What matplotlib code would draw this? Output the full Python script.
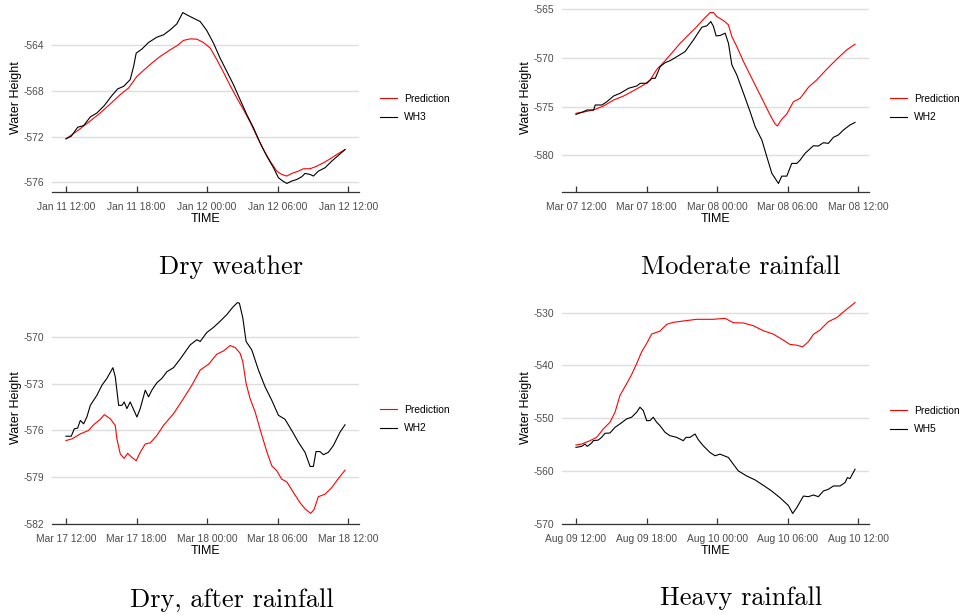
import numpy as np
import pandas as pd
import matplotlib
matplotlib.use("Agg")
import matplotlib.pyplot as plt
import matplotlib.dates as mdates

plt.rcParams['font.family'] = ['Liberation Sans', 'DejaVu Sans']
plt.rcParams['axes.unicode_minus'] = False

# hours after 12:00 on the start day, water heights
dry_start = "2020-01-11 12:00"
dry_obs_h = [0, 0.45, 1.0, 1.5, 2.07, 2.63, 3.26, 3.85, 4.39, 4.9, 5.46, 5.75, 5.97, 6.45,
             7.02, 7.73, 8.29, 8.86, 9.43, 9.93, 10.27, 10.84, 11.41, 11.97, 12.54, 13.1,
             13.67, 14.24, 14.8, 15.37, 15.94, 16.5, 17.07, 17.64, 18.06, 18.43, 18.77,
             19.19, 19.62, 20.04, 20.32, 20.75, 21.03, 21.45, 22.02, 22.59, 23.15, 23.72]
dry_obs = [-572.2, -571.97, -571.18, -571.04, -570.28, -569.93, -569.28, -568.47, -567.82,
           -567.59, -567.0, -565.84, -564.67, -564.32, -563.74, -563.27, -563.07, -562.63,
           -562.1, -561.11, -561.31, -561.61, -561.9, -562.69, -563.8, -565.11, -566.28,
           -567.45, -568.76, -570.07, -571.24, -572.55, -573.72, -574.74, -575.62, -575.91,
           -576.12, -575.91, -575.77, -575.53, -575.24, -575.33, -575.47, -575.04, -574.74,
           -574.16, -573.66, -573.14]
dry_pred_h = [0, 0.93, 1.78, 2.92, 3.76, 4.61, 5.32, 6.03, 6.6, 7.3, 8.01, 8.86, 9.43, 9.99,
              10.56, 11.13, 11.69, 12.26, 12.83, 13.39, 13.96, 14.52, 15.09, 15.66, 16.22,
              16.78, 17.35, 17.92, 18.34, 18.77, 19.19, 19.76, 20.18, 20.75, 21.32, 21.88,
              22.45, 23.01, 23.72]
dry_pred = [-572.2, -571.53, -570.86, -569.93, -569.14, -568.32, -567.74, -566.72, -566.19,
            -565.55, -564.96, -564.38, -564.03, -563.56, -563.42, -563.45, -563.74, -564.23,
            -565.26, -566.36, -567.53, -568.61, -569.64, -570.74, -571.97, -573.14, -574.16,
            -575.04, -575.33, -575.47, -575.24, -575.04, -574.83, -574.83, -574.6, -574.31,
            -573.96, -573.58, -573.14]
dry_ticks = [-576, -572, -568, -564]

mod_start = "2020-03-07 12:00"
mod_obs_h = [0, 0.65, 0.93, 1.5, 1.64, 2.21, 2.63, 3.2, 3.76, 4.47, 5.18, 5.46, 6.03, 6.45,
             6.74, 7.16, 7.59, 8.01, 8.58, 9.28, 9.99, 10.7, 11.12, 11.46, 11.69, 11.91,
             12.25, 12.68, 12.96, 13.25, 13.67, 14.24, 14.8, 15.23, 15.8, 16.22, 16.65,
             17.21, 17.49, 17.92, 18.34, 18.77, 19.05, 19.47, 20.18, 20.6, 21.03, 21.45,
             21.88, 22.3, 22.73, 23.29, 23.72]
mod_obs = [-575.8, -575.52, -575.35, -575.35, -574.84, -574.84, -574.5, -573.92, -573.64,
           -573.13, -572.89, -572.62, -572.62, -572.11, -572.11, -570.91, -570.5, -570.3,
           -569.89, -569.37, -568.18, -566.88, -566.74, -566.3, -566.81, -567.77, -567.73,
           -567.49, -568.52, -570.74, -571.76, -573.64, -575.52, -577.06, -578.43, -580.13,
           -581.84, -582.87, -582.12, -582.12, -580.82, -580.82, -580.48, -579.79, -579.01,
           -579.04, -578.7, -578.77, -578.15, -577.91, -577.4, -576.89, -576.62]
mod_pred_h = [0, 0.65, 1.5, 2.35, 3.2, 4.05, 4.9, 5.75, 6.31, 6.88, 7.44, 8.01, 8.86, 9.57,
              10.28, 10.84, 11.41, 11.69, 11.97, 12.54, 12.96, 13.25, 13.67, 14.24, 14.8,
              15.37, 15.94, 16.5, 16.93, 17.12, 17.49, 17.92, 18.48, 19.05, 19.76, 20.46,
              21.31, 22.16, 23.01, 23.72]
mod_pred = [-575.69, -575.56, -575.35, -574.94, -574.33, -573.92, -573.37, -572.79, -572.28,
            -571.18, -570.5, -569.71, -568.52, -567.66, -566.81, -566.06, -565.38, -565.38,
            -565.79, -566.2, -566.64, -567.84, -568.86, -570.4, -571.76, -573.13, -574.5,
            -575.86, -576.79, -576.99, -576.31, -575.76, -574.5, -574.16, -573.03, -572.28,
            -571.18, -570.16, -569.2, -568.62]
mod_ticks = [-580, -575, -570, -565]

after_start = "2020-03-17 12:00"
after_obs_h = [0, 0.45, 0.71, 0.99, 1.22, 1.5, 1.78, 2.07, 2.63, 3.06, 3.48, 3.99, 4.19, 4.48,
               4.76, 4.95, 5.18, 5.46, 6.03, 6.31, 6.74, 7.02, 7.3, 7.73, 8.15, 8.58, 9.14,
               9.71, 10.56, 11.12, 11.41, 11.97, 12.54, 13.1, 13.67, 14.18, 14.58, 14.74,
               15.03, 15.31, 15.79, 16.36, 16.92, 17.49, 18.06, 18.62, 19.19, 19.76, 20.32,
               20.75, 21.03, 21.25, 21.59, 21.88, 22.3, 22.73, 23.29, 23.72]
after_obs = [-576.37, -576.37, -575.89, -575.85, -575.35, -575.57, -575.13, -574.38, -573.73,
             -573.08, -572.64, -571.95, -572.53, -574.38, -574.38, -574.16, -574.59, -574.16,
             -575.13, -574.59, -573.4, -573.83, -573.4, -572.92, -572.64, -572.21, -571.95,
             -571.39, -570.48, -570.15, -570.26, -569.68, -569.35, -568.96, -568.53, -568.05,
             -567.75, -567.79, -568.74, -570.26, -570.8, -572.1, -573.18, -574.05, -575.02,
             -575.28, -576.0, -576.76, -577.41, -578.32, -578.32, -577.36, -577.36, -577.56,
             -577.41, -576.97, -576.11, -575.63]
after_pred_h = [0, 0.51, 1.22, 1.92, 2.35, 2.92, 3.26, 3.76, 4.19, 4.33, 4.62, 4.95, 5.24, 5.6,
                5.97, 6.31, 6.74, 7.16, 7.73, 8.29, 9.14, 9.99, 10.7, 11.41, 12.12, 12.82,
                13.39, 13.96, 14.38, 14.8, 15.03, 15.31, 15.65, 16.08, 16.65, 17.07, 17.49,
                17.92, 18.34, 18.77, 19.34, 19.9, 20.32, 20.8, 21.09, 21.45, 22.02, 22.59,
                23.15, 23.72]
after_pred = [-576.65, -576.54, -576.22, -576.0, -575.63, -575.28, -574.98, -575.24, -575.67,
              -576.54, -577.52, -577.8, -577.47, -577.73, -577.95, -577.41, -576.87, -576.8,
              -576.32, -575.67, -574.92, -573.94, -573.08, -572.1, -571.73, -571.08, -570.87,
              -570.52, -570.65, -571.02, -571.56, -572.97, -573.94, -574.81, -576.32, -577.36,
              -578.27, -578.6, -579.14, -579.31, -580.01, -580.66, -581.05, -581.35, -581.09,
              -580.27, -580.11, -579.68, -579.1, -578.56]
after_ticks = [-582, -579, -576, -573, -570]

heavy_start = "2020-08-09 12:00"
heavy_obs_h = [0, 0.48, 0.77, 0.96, 1.33, 1.47, 1.9, 2.18, 2.47, 2.89, 3.32, 3.74, 4.31, 4.73,
               5.16, 5.44, 5.72, 6.01, 6.29, 6.57, 6.86, 7.14, 7.57, 7.99, 8.56, 9.12, 9.35,
               9.69, 10.12, 10.4, 10.82, 11.39, 11.82, 12.24, 12.95, 13.37, 13.8, 14.51,
               15.22, 15.93, 16.63, 17.34, 18.05, 18.42, 18.76, 19.33, 19.75, 20.18, 20.6,
               21.03, 21.45, 21.88, 22.44, 22.87, 23.07, 23.29, 23.72]
heavy_obs = [-555.56, -555.37, -554.93, -555.37, -554.74, -554.29, -554.17, -553.66, -552.89,
             -552.83, -551.75, -551.11, -550.16, -549.84, -548.89, -547.94, -548.57, -550.48,
             -550.48, -549.84, -550.8, -551.43, -552.7, -553.34, -553.66, -554.29, -553.66,
             -553.66, -553.02, -554.1, -555.25, -556.52, -557.15, -556.84, -557.47, -558.74,
             -560.02, -560.98, -561.73, -562.76, -563.83, -565.1, -566.57, -568.09, -567.01,
             -564.79, -564.91, -564.59, -564.91, -563.83, -563.51, -562.88, -562.88, -562.24,
             -561.29, -561.48, -559.7]
heavy_pred_h = [0, 0.48, 1.19, 1.76, 2.32, 2.89, 3.32, 3.74, 4.31, 4.73, 5.16, 5.58, 6.01,
                6.43, 7.14, 7.71, 8.27, 9.12, 10.26, 11.67, 12.67, 13.37, 14.22, 15.07, 15.92,
                16.77, 17.48, 18.19, 18.76, 19.27, 19.75, 20.18, 20.74, 21.45, 22.16, 23.01,
                23.72]
heavy_pred = [-555.12, -554.93, -554.29, -553.66, -552.07, -550.8, -548.89, -545.71, -543.48,
              -541.76, -539.67, -537.44, -535.85, -534.07, -533.5, -532.23, -531.84, -531.59,
              -531.27, -531.27, -531.08, -531.91, -531.97, -532.48, -533.43, -534.07, -535.02,
              -536.04, -536.17, -536.49, -535.53, -534.13, -533.31, -531.72, -530.95, -529.36,
              -528.09]
heavy_ticks = [-570, -560, -550, -540, -530]

panels = [
    (dry_start, dry_obs_h, dry_obs, dry_pred_h, dry_pred, dry_ticks, "WH3", "Dry weather"),
    (mod_start, mod_obs_h, mod_obs, mod_pred_h, mod_pred, mod_ticks, "WH2", "Moderate rainfall"),
    (after_start, after_obs_h, after_obs, after_pred_h, after_pred, after_ticks, "WH2",
     "Dry, after rainfall"),
    (heavy_start, heavy_obs_h, heavy_obs, heavy_pred_h, heavy_pred, heavy_ticks, "WH5",
     "Heavy rainfall"),
]

W, H = 960, 615
fig = plt.figure(figsize=(W / 100, H / 100), dpi=100)

# pixel boxes: left, top, right, bottom
boxes = [(52, 4, 359, 192), (562, 4, 869, 192), (52, 292, 359, 524), (562, 292, 869, 524)]
legend_xy = [(380, 108), (890, 108), (380, 419), (890, 420)]
caption_xy = [(231, 267), (741, 267), (232, 600), (741, 598)]

txt_col = '#4d4d4d'

for (start, oh, ov, ph, pv, ticks, name, caption), box, lxy, cxy in zip(
        panels, boxes, legend_xy, caption_xy):
    l, t, r, b = box
    ax = fig.add_axes([l / W, 1 - b / H, (r - l) / W, (b - t) / H])
    t0 = pd.Timestamp(start)
    obs_t = t0 + pd.to_timedelta(oh, unit='h')
    pred_t = t0 + pd.to_timedelta(ph, unit='h')
    ax.plot(pred_t, pv, color='#ff0000', lw=0.8, label='Prediction', zorder=3)
    ax.plot(obs_t, ov, color='black', lw=0.8, label=name, zorder=3)

    ax.set_yticks(ticks)
    ax.grid(axis='y', color='#dedede', lw=1.0)
    ax.set_axisbelow(True)
    for s in ['top', 'right', 'left']:
        ax.spines[s].set_visible(False)
    ax.spines['bottom'].set_color('#333333')
    ax.spines['bottom'].set_linewidth(0.9)

    ax.xaxis.set_major_locator(mdates.HourLocator(byhour=[0, 6, 12, 18]))
    ax.xaxis.set_major_formatter(mdates.DateFormatter('%b %d %H:%M'))
    ax.tick_params(axis='x', direction='in', length=4.5, width=0.9, color='#333333',
                   labelsize=7.4, labelcolor=txt_col, pad=7)
    ax.tick_params(axis='y', length=0, labelsize=7.4, labelcolor=txt_col, pad=5.5)
    ax.set_xlabel('TIME', fontsize=9, labelpad=1)
    ax.set_ylabel('Water Height', fontsize=9, labelpad=1.5)

    ax.legend(loc='center left', bbox_to_anchor=(lxy[0] / W, 1 - lxy[1] / H),
              bbox_transform=fig.transFigure, frameon=False, fontsize=7.4,
              handlelength=1.7, handletextpad=0.65, labelspacing=0.85,
              borderpad=0, borderaxespad=0)

    fig.text(cxy[0] / W, 1 - cxy[1] / H, caption, ha='center', va='center',
             fontsize=19, family='cmr10')

fig.savefig('out.png', dpi=100)
